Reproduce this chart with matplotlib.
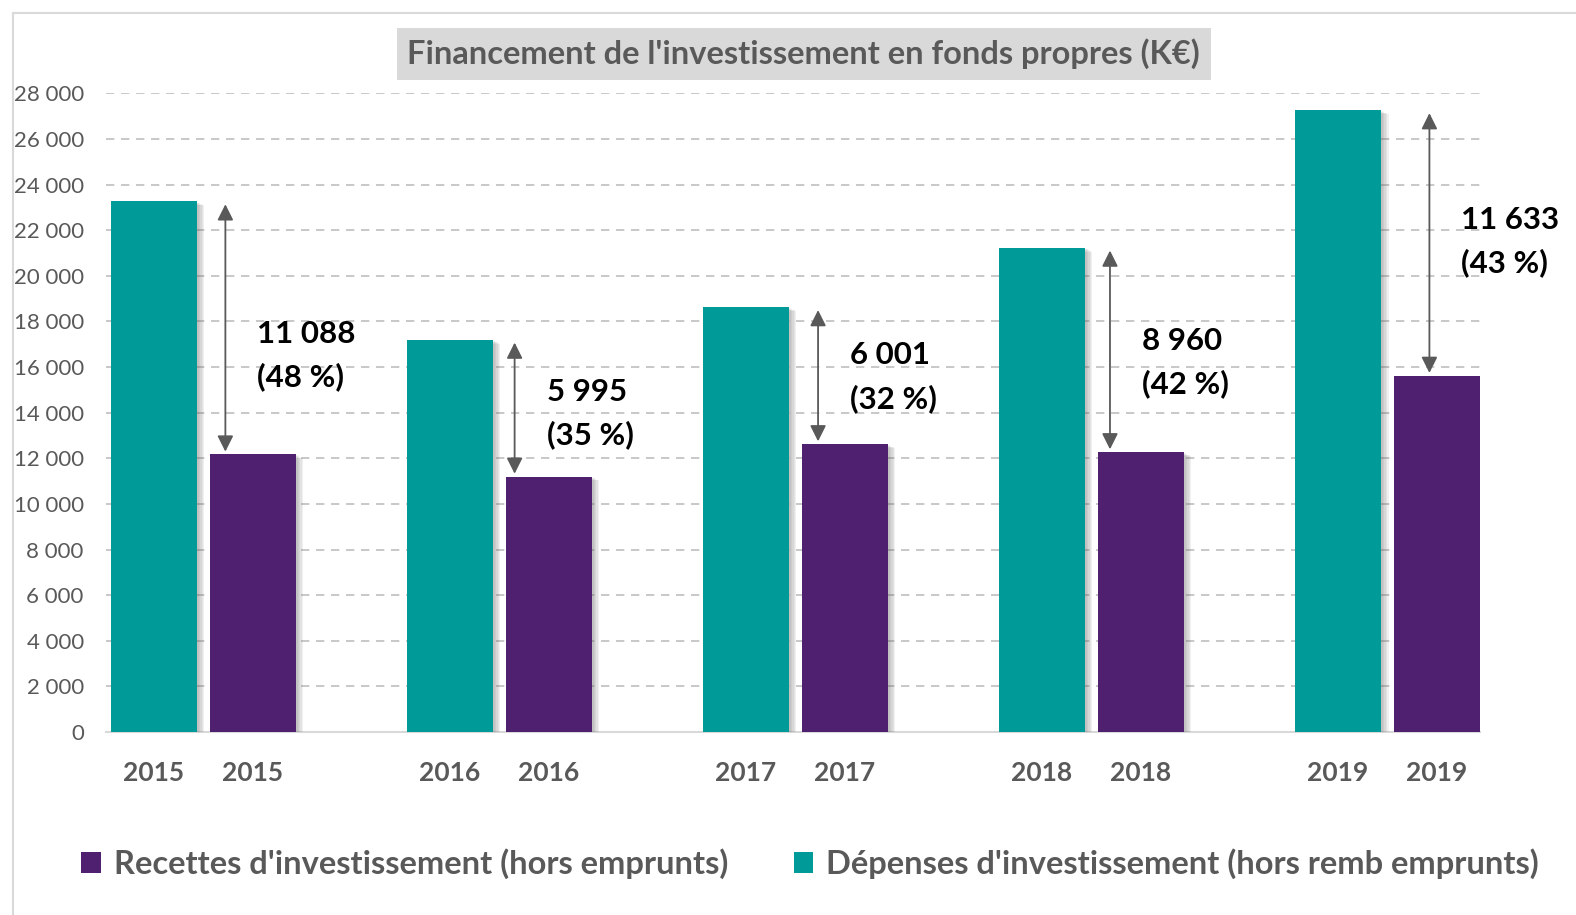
import numpy as np
import matplotlib
matplotlib.use("Agg")
from matplotlib import pyplot as plt
from matplotlib import patheffects
from matplotlib.patches import Rectangle, Patch

plt.rcParams['font.family'] = ['Lato', 'DejaVu Sans']

years = ['2015', '2016', '2017', '2018', '2019']
depenses = [23258, 17195, 18621, 21230, 27253]   # hors remb emprunts
recettes = [12170, 11200, 12620, 12270, 15620]   # hors emprunts
ecart = [11088, 5995, 6001, 8960, 11633]
ecart_pct = [48, 35, 32, 42, 43]

TEAL = '#009A98'
PURPLE = '#4F2070'
GREY_TXT = '#595959'

# horizontal position of each double arrow inside its group,
# and vertical nudge (points) of its label
arrow_dx = [0.075, 0.052, 0.077, 0.063, 0.142]
label_dy = [-20, -4, -1, -9, 1]

fig = plt.figure(figsize=(15.76, 9.15), dpi=100)
ax = fig.add_axes([0.0673, 0.2, 0.872, 0.698])

x = np.arange(len(years))
w = 0.29
off = 0.167

# soft drop shadow: a few stacked, faint offset copies
shadow = [patheffects.SimplePatchShadow(offset=(k, -0.5 * k), shadow_rgbFace='#606060', alpha=0.09)
          for k in (1.5, 2.5, 3.5, 4.5, 5.5)]
shadow.append(patheffects.Normal())

b1 = ax.bar(x - off, depenses, width=w, color=TEAL, zorder=3)
b2 = ax.bar(x + off, recettes, width=w, color=PURPLE, zorder=3)
for b in list(b1) + list(b2):
    b.set_path_effects(shadow)

for i in range(len(years)):
    xa = x[i] + arrow_dx[i]
    ax.annotate('', xy=(xa, depenses[i]), xytext=(xa, recettes[i]),
                arrowprops=dict(arrowstyle='<|-|>', color=GREY_TXT, lw=1.3,
                                mutation_scale=24, shrinkA=2, shrinkB=2),
                zorder=4)
    mid = (depenses[i] + recettes[i]) / 2
    label = f"{ecart[i]:,}".replace(',', ' ') + f"\n({ecart_pct[i]} %)"
    ax.annotate(label, xy=(xa, mid), xytext=(23, label_dy[i]), textcoords='offset points',
                ha='left', va='center', fontsize=22.5, fontweight='bold',
                color='black', linespacing=1.6, zorder=5)

ax.set_xlim(-0.328, 4.314)
ax.set_ylim(0, 28000)
ax.set_yticks(np.arange(0, 28001, 2000))
ax.set_yticklabels([f"{v:,}".replace(',', ' ') for v in range(0, 28001, 2000)],
                   fontsize=16, color=GREY_TXT)

tick_pos = np.concatenate([x - off, x + off])
ax.set_xticks(tick_pos)
ax.set_xticklabels(years + years, fontsize=19, fontweight='bold', color=GREY_TXT)
ax.tick_params(axis='x', length=0, pad=21)
ax.tick_params(axis='y', length=0, pad=16)

ax.yaxis.grid(True, color='#BFBFBF', linestyle=(0, (5, 4)), lw=1.2)
ax.set_axisbelow(True)
for s in ['top', 'right', 'left']:
    ax.spines[s].set_visible(False)
ax.spines['bottom'].set_color('#D9D9D9')
ax.spines['bottom'].set_linewidth(1.5)

fig.text(0.510, 0.941, "Financement de l'investissement en fonds propres (K€)",
         ha='center', va='center', fontsize=23.5, fontweight='bold', color=GREY_TXT,
         bbox=dict(boxstyle='square,pad=0.33', facecolor='#D9D9D9', edgecolor='none'))

handles = [Patch(facecolor=PURPLE), Patch(facecolor=TEAL)]
fig.legend(handles, ["Recettes d'investissement (hors emprunts)",
                     "Dépenses d'investissement (hors remb emprunts)"],
           loc='center', bbox_to_anchor=(0.514, 0.056), ncol=2, frameon=False,
           prop=dict(size=23.5, weight='bold'), labelcolor=GREY_TXT,
           handlelength=0.6, handleheight=0.6, handletextpad=0.4,
           columnspacing=2.0)

fig.patches.append(Rectangle((13 / 1576, -0.1), 1.5, 1.1 - 13 / 915, fill=False,
                             edgecolor='#D9D9D9', lw=1.5, transform=fig.transFigure))

fig.savefig('out.png', dpi=100)
